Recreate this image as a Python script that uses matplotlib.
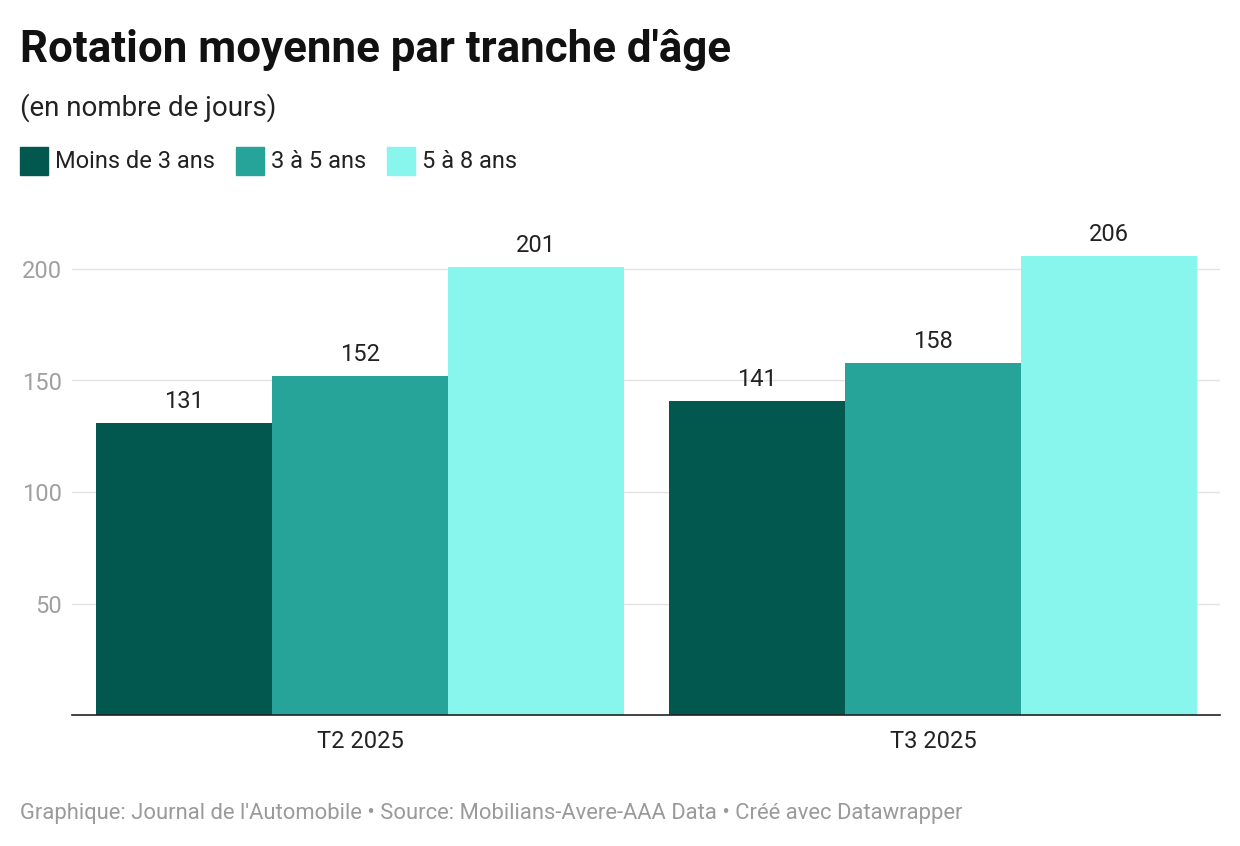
import numpy as np
import matplotlib.pyplot as plt

plt.rcParams['font.family'] = ['Roboto', 'DejaVu Sans']

periods = ['T2 2025', 'T3 2025']
series = ['Moins de 3 ans', '3 à 5 ans', '5 à 8 ans']
moins_3 = [131, 141]
de_3_a_5 = [152, 158]
de_5_a_8 = [201, 206]
values = [moins_3, de_3_a_5, de_5_a_8]
colors = ['#02574f', '#27a49a', '#89f6ed']

fig = plt.figure(figsize=(12.4, 8.46), dpi=100)
fig.set_facecolor('white')
ax = fig.add_axes([72 / 1240, 1 - 715 / 846, 1148 / 1240, 500 / 846])

x = np.arange(len(periods))
w = 0.307
for i, (name, vals) in enumerate(zip(series, values)):
    pos = x + (i - 1) * w
    ax.bar(pos, vals, width=w, color=colors[i], zorder=2)
    for p, v in zip(pos, vals):
        ax.text(p, v + 4.5, str(v), ha='center', va='bottom', fontsize=17, color='#222222')

ax.set_xlim(-0.503, 1.501)
ax.set_ylim(0, 500 / 2.23)
ax.set_yticks([50, 100, 150, 200])
ax.set_xticks(x)
ax.set_xticklabels(periods, fontsize=17, color='#222222')
ax.tick_params(axis='x', length=0, pad=11)
ax.tick_params(axis='y', length=0, labelsize=17, labelcolor='#a0a0a0', pad=7)
ax.grid(axis='y', color='#e3e3e3', linewidth=1, zorder=0)
for s in ['top', 'right', 'left']:
    ax.spines[s].set_visible(False)
ax.spines['bottom'].set_color('#222222')
ax.spines['bottom'].set_linewidth(1.2)
ax.spines['bottom'].set_zorder(3)

fig.text(20 / 1240, 1 - 62 / 846, "Rotation moyenne par tranche d'âge",
         fontsize=31.6, fontweight='bold', color='#111111', va='baseline')
fig.text(20 / 1240, 1 - 116 / 846, '(en nombre de jours)',
         fontsize=20, color='#222222', va='baseline')

# legende faite a la main
lx = 20
for name, c in zip(series, colors):
    fig.patches.append(plt.Rectangle((lx / 1240, 1 - 175 / 846), 28 / 1240, 28 / 846,
                                     transform=fig.transFigure, color=c))
    t = fig.text((lx + 35) / 1240, 1 - 161 / 846, name, fontsize=17,
                 color='#222222', va='center')
    fig.canvas.draw()
    bb = t.get_window_extent()
    lx = bb.x1 + 21

fig.text(20 / 1240, 1 - 819 / 846,
         "Graphique: Journal de l'Automobile • Source: Mobilians-Avere-AAA Data • Créé avec Datawrapper",
         fontsize=15.85, color='#9a9a9a', va='baseline')

fig.savefig('out.png', dpi=100)
